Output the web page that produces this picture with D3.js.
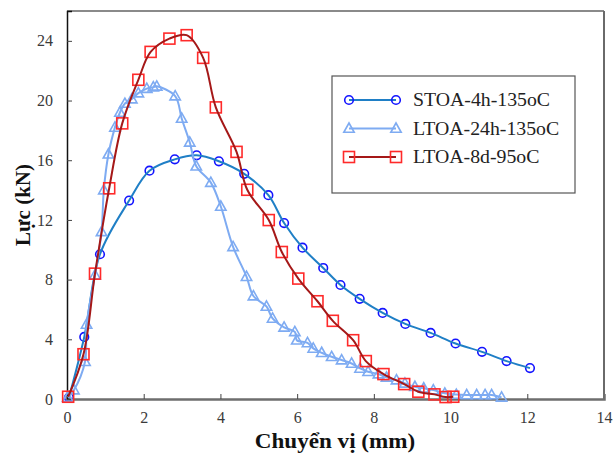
<!DOCTYPE html>
<html>
<head>
<meta charset="utf-8">
<script src="https://cdn.jsdelivr.net/npm/d3@7"></script>
<style>
  body { margin: 0; background: #fff; }
  svg { display: block; }
</style>
</head>
<body>
<div id="chart"></div>
<script>
// series values: [displacement mm, force kN]
var stoa4h = [[0.05,0.1],[0.45,4.16],[0.86,9.7],[1.62,13.3],[2.15,15.3],[2.81,16.06],[3.38,16.33],[3.96,15.93],
  [4.62,15.09],[5.25,13.66],[5.66,11.79],[6.14,10.14],[6.68,8.78],[7.13,7.64],[7.63,6.71],[8.23,5.77],
  [8.82,5.03],[9.48,4.43],[10.13,3.72],[10.82,3.16],[11.46,2.54],[12.07,2.07]];

var ltoa24h = [[0.02,0.1],[0.18,0.6],[0.47,2.5],[0.51,5.0],[0.73,8.3],[0.9,11.2],[0.96,14.0],[1.08,16.4],
  [1.25,18.2],[1.38,19.2],[1.51,19.8],[1.69,20.1],[1.86,20.5],[2.08,20.8],[2.25,20.9],[2.34,20.95],
  [2.82,20.3],[2.99,18.8],[3.2,17.2],[3.37,15.6],[3.75,14.5],[4.01,12.9],[4.33,10.2],[4.68,8.2],
  [4.86,6.9],[5.2,6.2],[5.36,5.4],[5.66,4.8],[5.94,4.5],[5.99,3.94],[6.27,3.76],[6.42,3.39],[6.64,3.1],
  [6.9,2.83],[7.16,2.61],[7.42,2.38],[7.64,2.05],[7.85,1.83],[8.12,1.67],[8.33,1.45],[8.59,1.27],
  [8.81,1.05],[9.07,0.82],[9.3,0.72],[9.55,0.6],[9.85,0.38],[10.15,0.3],[10.42,0.27],[10.68,0.27],
  [10.9,0.27],[11.07,0.27],[11.33,0.11]];

var ltoa8d = [[0.03,0.15],[0.43,3.0],[0.73,8.4],[1.1,14.12],[1.44,18.47],[1.86,21.39],[2.18,23.26],
  [2.67,24.15],[3.12,24.38],[3.55,22.86],[3.88,19.54],[4.42,16.56],[4.7,14.02],[5.26,11.99],[5.6,9.85],
  [6.03,8.07],[6.53,6.55],[6.93,5.24],[7.46,3.94],[7.79,2.54],[8.25,1.67],[8.79,1.0],[9.16,0.49],
  [9.58,0.31],[9.87,0.13],[10.07,0.15]];

var seriesNames = ["STOA-4h-135oC", "LTOA-24h-135oC", "LTOA-8d-95oC"];
var xTicks = [0, 2, 4, 6, 8, 10, 12, 14];
var yTicks = [0, 4, 8, 12, 16, 20, 24];

var width = 616, height = 454;
var margin = {top: 10, right: 12, bottom: 55, left: 67};
var serif = "'Liberation Serif', 'Times New Roman', serif";

var series = [
  {name: seriesNames[0], data: stoa4h, line: "#1f7fc6", mark: "#1414ff", shape: "circle"},
  {name: seriesNames[1], data: ltoa24h, line: "#7eabf2", mark: "#7eabf2", shape: "triangle"},
  {name: seriesNames[2], data: ltoa8d, line: "#a51818", mark: "#ff2a2a", shape: "square"}
];

var svg = d3.select("#chart").append("svg")
  .attr("width", width)
  .attr("height", height);

var x = d3.scaleLinear().domain([0, 14]).range([margin.left, width - margin.right]);
var y = d3.scaleLinear().domain([0, 26]).range([399, margin.top + 1]);

// frame (top and right are grey, like the original)
svg.append("line")
  .attr("x1", x(0)).attr("x2", x(14)).attr("y1", y(26)).attr("y2", y(26))
  .style("stroke", "#8a8a8a").style("stroke-width", 2);
svg.append("line")
  .attr("x1", x(14)).attr("x2", x(14)).attr("y1", y(26)).attr("y2", y(0))
  .style("stroke", "#6a6a6a").style("stroke-width", 2);

// axes, ticks point inwards
var xAxis = svg.append("g")
  .attr("transform", "translate(0," + y(0) + ")")
  .call(d3.axisBottom(x).tickValues(xTicks).tickSize(-5).tickPadding(13));
var yAxis = svg.append("g")
  .attr("transform", "translate(" + x(0) + ",0)")
  .call(d3.axisLeft(y).tickValues(yTicks).tickSize(-5).tickPadding(14));

xAxis.select(".domain").style("stroke", "#6e6e6e").style("stroke-width", 2.5);
yAxis.select(".domain").style("stroke", "#111").style("stroke-width", 1.5);
[xAxis, yAxis].forEach(function (ax) {
  ax.selectAll(".tick line").style("stroke", "#444");
  ax.selectAll(".tick text")
    .style("font-family", serif)
    .style("font-size", "16px")
    .style("fill", "#3a3a3a");
});
xAxis.select(".tick:last-of-type line").remove();

// axis titles (the original text is a bit wider than the font, so stretch it)
svg.append("text")
  .attr("transform", "translate(335,448) scale(1.1,1)")
  .attr("text-anchor", "middle")
  .style("font-family", serif)
  .style("font-weight", "bold")
  .style("font-size", "21px")
  .style("fill", "#111")
  .text("Chuyển vị (mm)");
svg.append("text")
  .attr("transform", "translate(30,205) rotate(-90)")
  .attr("text-anchor", "middle")
  .style("font-family", serif)
  .style("font-weight", "bold")
  .style("font-size", "21px")
  .style("fill", "#111")
  .text("Lực (kN)");

var line = d3.line()
  .x(function (d) { return x(d[0]); })
  .y(function (d) { return y(d[1]); })
  .curve(d3.curveCatmullRom.alpha(0.5));

function marker(sel, s) {
  if (s.shape === "circle") {
    sel.append("circle").attr("r", 4.3);
  } else if (s.shape === "square") {
    sel.append("rect").attr("x", -5.5).attr("y", -5.5).attr("width", 11).attr("height", 11);
  } else {
    sel.append("path").attr("d", "M0,-5.5L5.2,3.8L-5.2,3.8Z");
  }
  sel.selectAll("*")
    .style("fill", "none")
    .style("stroke", s.mark)
    .style("stroke-width", 1.6);
}

var plot = svg.append("g").attr("class", "plot");
series.forEach(function (s) {
  var g = plot.append("g");
  g.selectAll(".mk")
    .data(s.data)
    .enter().append("g")
    .attr("class", "mk")
    .attr("transform", function (d) { return "translate(" + x(d[0]) + "," + y(d[1]) + ")"; })
    .each(function () { marker(d3.select(this), s); });
  g.append("path")
    .datum(s.data)
    .attr("d", line)
    .style("fill", "none")
    .style("stroke", s.line)
    .style("stroke-width", 2);
});

// legend
var legend = svg.append("g").attr("transform", "translate(332,76)");
legend.append("rect")
  .attr("width", 243).attr("height", 117)
  .style("fill", "#fff")
  .style("stroke", "#555")
  .style("stroke-width", 1.2);
series.forEach(function (s, i) {
  var row = legend.append("g").attr("transform", "translate(0," + (24 + i * 28.5) + ")");
  row.append("line")
    .attr("x1", 17).attr("x2", 64)
    .style("stroke", s.line).style("stroke-width", 2);
  [17, 64].forEach(function (px) {
    var m = row.append("g").attr("transform", "translate(" + px + ",0)");
    marker(m, s);
  });
  row.append("text")
    .attr("transform", "translate(81,0) scale(1.1,1)")
    .attr("dy", "0.35em")
    .style("font-family", serif)
    .style("font-size", "18px")
    .style("fill", "#222")
    .text(s.name);
});
</script>
</body>
</html>
